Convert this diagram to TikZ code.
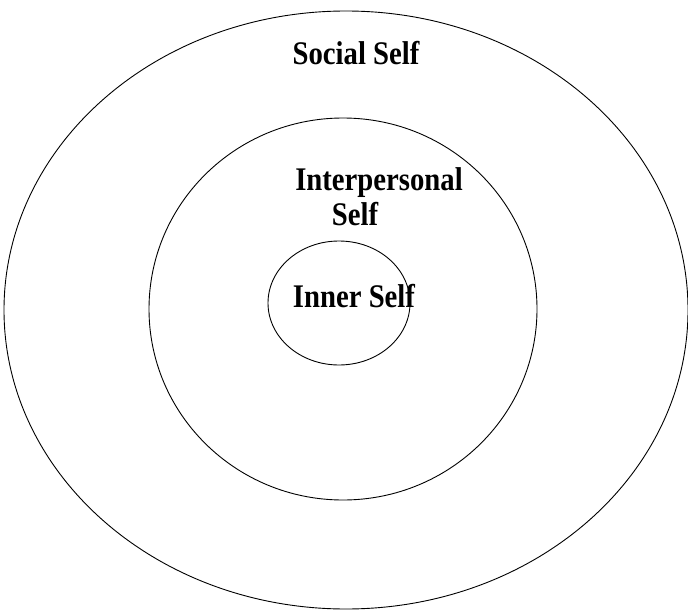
\documentclass[tikz,border=0pt]{standalone}
\usepackage{fontspec}
\setmainfont{Liberation Serif}
\newfontfamily\selffont[FakeStretch=0.87]{Liberation Serif}
\usetikzlibrary{positioning}

\begin{document}
\begin{tikzpicture}[
    x=1pt, y=-1pt,
    ring/.style={draw=black, line width=0.9pt},
    label/.style={font=\selffont\fontsize{33}{36}\selectfont\bfseries, inner sep=0pt, anchor=base}
  ]
    \useasboundingbox (0,0) rectangle (688,610);
    % the three selves, outermost first
    \draw[ring] (346,310) ellipse [x radius=342, y radius=299];
    \draw[ring] (343,309) ellipse [x radius=194, y radius=191];
    \draw[ring] (339,303) ellipse [x radius=71, y radius=62];
    \node[label] (social) at (356,65) {Social Self};
    \node[label] (interpersonal) at (379,190) {Interpersonal};
    \node[label] (interself) at (355,225) {Self};
    \node[label] (inner) at (354,307) {Inner Self};
  \end{tikzpicture}
\end{document}
